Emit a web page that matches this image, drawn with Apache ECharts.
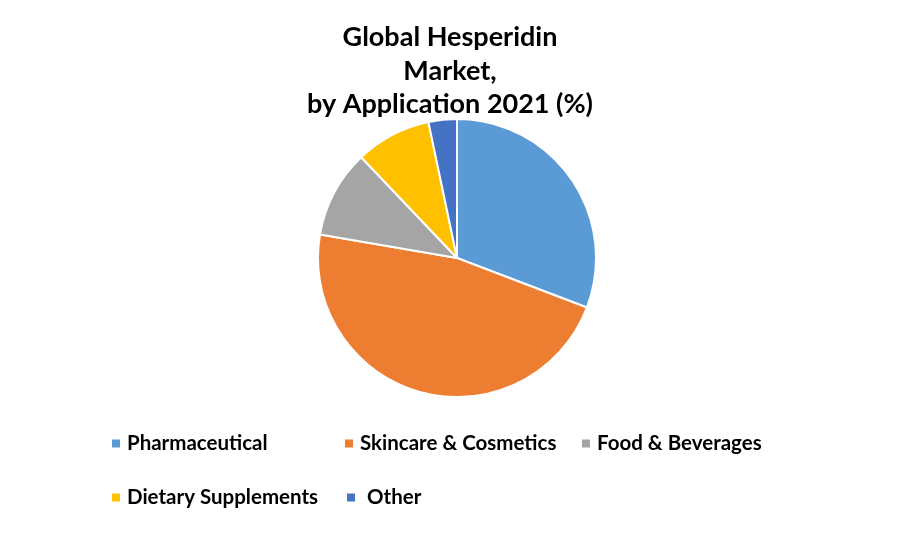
<!DOCTYPE html>
<html>
<head>
<meta charset="utf-8">
<script src="https://cdn.jsdelivr.net/npm/echarts@6/dist/echarts.min.js"></script>
<style>html,body{margin:0;padding:0;background:#fff}#c{width:900px;height:538px}</style>
</head>
<body>
<div id="c"></div>
<script>
const categories = ["Pharmaceutical", "Skincare & Cosmetics", "Food & Beverages", "Dietary Supplements", "Other"];
const values = [30.8, 46.9, 10.2, 8.8, 3.3];
const colors = ["#5B9BD5", "#ED7D31", "#A5A5A5", "#FFC000", "#4472C4"];

const FONT = "Lato";
const legendPos = [
  {left: 110, top: 433},
  {left: 343, top: 433},
  {left: 580, top: 433},
  {left: 110, top: 487},
  {left: 345, top: 487}
];
const legends = categories.map((name, i) => ({
  data: [name],
  left: legendPos[i].left,
  top: legendPos[i].top,
  orient: 'horizontal',
  icon: 'rect',
  itemWidth: 10,
  itemHeight: 10,
  itemGap: 0,
  padding: 0,
  selectedMode: false,
  textStyle: {fontFamily: FONT, fontWeight: 'bold', fontSize: 20.5, color: '#000', padding: [0, 0, 0, i === 4 ? 6 : 1]}
}));

const chart = echarts.init(document.getElementById('c'), null, {renderer: 'canvas'});
chart.setOption({
  animation: false,
  color: colors,
  title: {
    text: "Global Hesperidin\nMarket,\nby Application 2021 (%)",
    left: 'center',
    top: 16,
    textStyle: {fontFamily: FONT, fontWeight: 'bold', fontSize: 27, color: '#000', lineHeight: 33.5}
  },
  legend: legends,
  series: [{
    type: 'pie',
    center: [457, 258],
    radius: [0, 139],
    startAngle: 90,
    clockwise: true,
    label: {show: false},
    labelLine: {show: false},
    itemStyle: {borderColor: '#fff', borderWidth: 2},
    data: categories.map((name, i) => ({name, value: values[i]}))
  }]
});
</script>
</body>
</html>
